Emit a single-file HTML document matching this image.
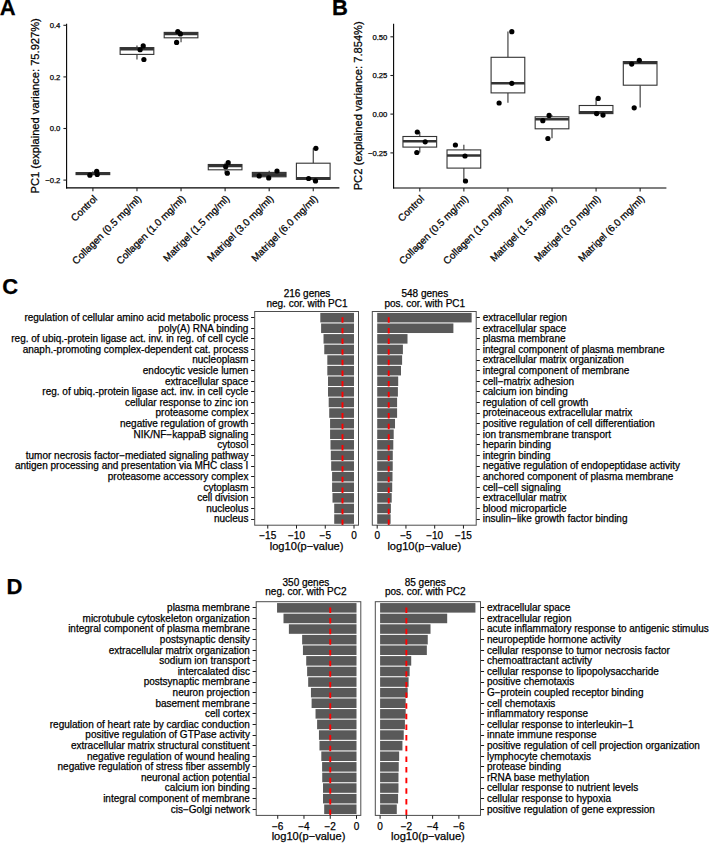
<!DOCTYPE html>
<html><head><meta charset="utf-8"><title>Figure</title>
<style>
html,body{margin:0;padding:0;background:#fff;}
body{width:709px;height:843px;overflow:hidden;}
svg{display:block;font-family:"Liberation Sans", sans-serif;}
text{stroke:#000;stroke-width:0.25px;}
</style></head>
<body>
<svg width="709" height="843" viewBox="0 0 709 843">
<rect x="0" y="0" width="709" height="843" fill="#fff"/>
<text x="-0.30" y="14.60" font-size="22" text-anchor="start" font-weight="bold" fill="#000" >A</text>
<text x="332.00" y="14.70" font-size="22" text-anchor="start" font-weight="bold" fill="#000" >B</text>
<text x="2.20" y="293.60" font-size="22" text-anchor="start" font-weight="bold" fill="#000" >C</text>
<text x="6.60" y="593.90" font-size="22" text-anchor="start" font-weight="bold" fill="#000" >D</text>
<line x1="66.60" y1="23.70" x2="66.60" y2="188.40" stroke="#000" stroke-width="1.1" />
<line x1="66.10" y1="187.90" x2="339.40" y2="187.90" stroke="#000" stroke-width="1.1" />
<line x1="63.40" y1="25.30" x2="66.60" y2="25.30" stroke="#222" stroke-width="1.1" />
<text x="60.40" y="28.05" font-size="7.7" text-anchor="end" font-weight="normal" fill="#000" >0.4</text>
<line x1="63.40" y1="76.90" x2="66.60" y2="76.90" stroke="#222" stroke-width="1.1" />
<text x="60.40" y="79.65" font-size="7.7" text-anchor="end" font-weight="normal" fill="#000" >0.2</text>
<line x1="63.40" y1="128.50" x2="66.60" y2="128.50" stroke="#222" stroke-width="1.1" />
<text x="60.40" y="131.25" font-size="7.7" text-anchor="end" font-weight="normal" fill="#000" >0.0</text>
<line x1="63.40" y1="180.10" x2="66.60" y2="180.10" stroke="#222" stroke-width="1.1" />
<text x="60.40" y="182.85" font-size="7.7" text-anchor="end" font-weight="normal" fill="#000" >−0.2</text>
<text x="0.00" y="0.00" font-size="11.15" text-anchor="middle" font-weight="normal" fill="#000" transform="translate(39.0,105.8) rotate(-90)">PC1 (explained variance: 75.927%)</text>
<line x1="92.90" y1="187.90" x2="92.90" y2="191.30" stroke="#222" stroke-width="1.1" />
<text x="0.00" y="0.00" font-size="10" text-anchor="end" font-weight="normal" fill="#000" transform="translate(97.90,199.30) rotate(-45)">Control</text>
<line x1="92.90" y1="171.30" x2="92.90" y2="172.60" stroke="#333" stroke-width="1.1" />
<line x1="92.90" y1="174.60" x2="92.90" y2="175.20" stroke="#333" stroke-width="1.1" />
<rect x="76.05" y="172.60" width="33.70" height="2.00" fill="#444" stroke="#333" stroke-width="1.1" />
<line x1="76.05" y1="173.50" x2="109.75" y2="173.50" stroke="#333" stroke-width="2.6" />
<circle cx="89.90" cy="175.20" r="2.6" fill="#000"/>
<circle cx="96.70" cy="171.30" r="2.6" fill="#000"/>
<circle cx="97.20" cy="174.50" r="2.6" fill="#000"/>
<line x1="136.97" y1="187.90" x2="136.97" y2="191.30" stroke="#222" stroke-width="1.1" />
<text x="0.00" y="0.00" font-size="10" text-anchor="end" font-weight="normal" fill="#000" transform="translate(141.97,199.30) rotate(-45)">Collagen (0.5 mg/ml)</text>
<line x1="136.97" y1="45.50" x2="136.97" y2="47.60" stroke="#333" stroke-width="1.1" />
<line x1="136.97" y1="54.40" x2="136.97" y2="59.40" stroke="#333" stroke-width="1.1" />
<rect x="120.12" y="47.60" width="33.70" height="6.80" fill="#fff" stroke="#333" stroke-width="1.1" />
<line x1="120.12" y1="49.10" x2="153.82" y2="49.10" stroke="#333" stroke-width="2.6" />
<circle cx="143.20" cy="45.90" r="2.6" fill="#000"/>
<circle cx="140.10" cy="49.75" r="2.6" fill="#000"/>
<circle cx="143.90" cy="59.50" r="2.6" fill="#000"/>
<line x1="181.04" y1="187.90" x2="181.04" y2="191.30" stroke="#222" stroke-width="1.1" />
<text x="0.00" y="0.00" font-size="10" text-anchor="end" font-weight="normal" fill="#000" transform="translate(186.04,199.30) rotate(-45)">Collagen (1.0 mg/ml)</text>
<line x1="181.04" y1="31.30" x2="181.04" y2="32.40" stroke="#333" stroke-width="1.1" />
<line x1="181.04" y1="37.80" x2="181.04" y2="42.20" stroke="#333" stroke-width="1.1" />
<rect x="164.19" y="32.40" width="33.70" height="5.40" fill="#fff" stroke="#333" stroke-width="1.1" />
<line x1="164.19" y1="33.90" x2="197.89" y2="33.90" stroke="#333" stroke-width="2.6" />
<circle cx="177.80" cy="31.50" r="2.6" fill="#000"/>
<circle cx="180.40" cy="33.90" r="2.6" fill="#000"/>
<circle cx="176.60" cy="42.40" r="2.6" fill="#000"/>
<line x1="225.11" y1="187.90" x2="225.11" y2="191.30" stroke="#222" stroke-width="1.1" />
<text x="0.00" y="0.00" font-size="10" text-anchor="end" font-weight="normal" fill="#000" transform="translate(230.11,199.30) rotate(-45)">Matrigel (1.5 mg/ml)</text>
<line x1="225.11" y1="162.70" x2="225.11" y2="164.50" stroke="#333" stroke-width="1.1" />
<line x1="225.11" y1="169.80" x2="225.11" y2="173.20" stroke="#333" stroke-width="1.1" />
<rect x="208.26" y="164.50" width="33.70" height="5.30" fill="#fff" stroke="#333" stroke-width="1.1" />
<line x1="208.26" y1="166.00" x2="241.96" y2="166.00" stroke="#333" stroke-width="2.6" />
<circle cx="228.20" cy="162.70" r="2.6" fill="#000"/>
<circle cx="225.70" cy="166.70" r="2.6" fill="#000"/>
<circle cx="227.30" cy="173.20" r="2.6" fill="#000"/>
<line x1="269.18" y1="187.90" x2="269.18" y2="191.30" stroke="#222" stroke-width="1.1" />
<text x="0.00" y="0.00" font-size="10" text-anchor="end" font-weight="normal" fill="#000" transform="translate(274.18,199.30) rotate(-45)">Matrigel (3.0 mg/ml)</text>
<line x1="269.18" y1="170.80" x2="269.18" y2="172.40" stroke="#333" stroke-width="1.1" />
<line x1="269.18" y1="176.80" x2="269.18" y2="177.90" stroke="#333" stroke-width="1.1" />
<rect x="252.33" y="172.40" width="33.70" height="4.40" fill="#555" stroke="#333" stroke-width="1.1" />
<line x1="252.33" y1="174.60" x2="286.03" y2="174.60" stroke="#333" stroke-width="2.6" />
<circle cx="259.20" cy="175.90" r="2.6" fill="#000"/>
<circle cx="268.70" cy="177.90" r="2.6" fill="#000"/>
<circle cx="277.00" cy="171.00" r="2.6" fill="#000"/>
<line x1="313.25" y1="187.90" x2="313.25" y2="191.30" stroke="#222" stroke-width="1.1" />
<text x="0.00" y="0.00" font-size="10" text-anchor="end" font-weight="normal" fill="#000" transform="translate(318.25,199.30) rotate(-45)">Matrigel (6.0 mg/ml)</text>
<line x1="313.25" y1="148.30" x2="313.25" y2="163.20" stroke="#333" stroke-width="1.1" />
<line x1="313.25" y1="179.40" x2="313.25" y2="180.80" stroke="#333" stroke-width="1.1" />
<rect x="296.40" y="163.20" width="33.70" height="16.20" fill="#fff" stroke="#333" stroke-width="1.1" />
<line x1="296.40" y1="178.30" x2="330.10" y2="178.30" stroke="#333" stroke-width="2.6" />
<circle cx="315.90" cy="148.30" r="2.6" fill="#000"/>
<circle cx="308.60" cy="178.50" r="2.6" fill="#000"/>
<circle cx="315.50" cy="180.90" r="2.6" fill="#000"/>
<line x1="393.60" y1="23.70" x2="393.60" y2="188.50" stroke="#000" stroke-width="1.1" />
<line x1="393.10" y1="188.00" x2="666.40" y2="188.00" stroke="#000" stroke-width="1.1" />
<line x1="390.40" y1="36.80" x2="393.60" y2="36.80" stroke="#222" stroke-width="1.1" />
<text x="387.40" y="39.55" font-size="7.7" text-anchor="end" font-weight="normal" fill="#000" >0.50</text>
<line x1="390.40" y1="75.50" x2="393.60" y2="75.50" stroke="#222" stroke-width="1.1" />
<text x="387.40" y="78.25" font-size="7.7" text-anchor="end" font-weight="normal" fill="#000" >0.25</text>
<line x1="390.40" y1="114.10" x2="393.60" y2="114.10" stroke="#222" stroke-width="1.1" />
<text x="387.40" y="116.85" font-size="7.7" text-anchor="end" font-weight="normal" fill="#000" >0.00</text>
<line x1="390.40" y1="152.90" x2="393.60" y2="152.90" stroke="#222" stroke-width="1.1" />
<text x="387.40" y="155.65" font-size="7.7" text-anchor="end" font-weight="normal" fill="#000" >−0.25</text>
<text x="0.00" y="0.00" font-size="11.15" text-anchor="middle" font-weight="normal" fill="#000" transform="translate(362.0,105.8) rotate(-90)">PC2 (explained variance: 7.854%)</text>
<line x1="419.80" y1="188.00" x2="419.80" y2="191.40" stroke="#222" stroke-width="1.1" />
<text x="0.00" y="0.00" font-size="10" text-anchor="end" font-weight="normal" fill="#000" transform="translate(424.80,199.40) rotate(-45)">Control</text>
<line x1="419.80" y1="132.00" x2="419.80" y2="136.50" stroke="#333" stroke-width="1.1" />
<line x1="419.80" y1="147.10" x2="419.80" y2="152.50" stroke="#333" stroke-width="1.1" />
<rect x="402.95" y="136.50" width="33.70" height="10.60" fill="#fff" stroke="#333" stroke-width="1.1" />
<line x1="402.95" y1="141.20" x2="436.65" y2="141.20" stroke="#333" stroke-width="2.6" />
<circle cx="417.30" cy="132.00" r="2.6" fill="#000"/>
<circle cx="425.20" cy="141.80" r="2.6" fill="#000"/>
<circle cx="416.80" cy="152.50" r="2.6" fill="#000"/>
<line x1="463.87" y1="188.00" x2="463.87" y2="191.40" stroke="#222" stroke-width="1.1" />
<text x="0.00" y="0.00" font-size="10" text-anchor="end" font-weight="normal" fill="#000" transform="translate(468.87,199.40) rotate(-45)">Collagen (0.5 mg/ml)</text>
<line x1="463.87" y1="144.80" x2="463.87" y2="149.90" stroke="#333" stroke-width="1.1" />
<line x1="463.87" y1="168.10" x2="463.87" y2="181.00" stroke="#333" stroke-width="1.1" />
<rect x="447.02" y="149.90" width="33.70" height="18.20" fill="#fff" stroke="#333" stroke-width="1.1" />
<line x1="447.02" y1="155.50" x2="480.72" y2="155.50" stroke="#333" stroke-width="2.6" />
<circle cx="455.40" cy="145.00" r="2.6" fill="#000"/>
<circle cx="465.00" cy="156.00" r="2.6" fill="#000"/>
<circle cx="465.50" cy="181.00" r="2.6" fill="#000"/>
<line x1="507.94" y1="188.00" x2="507.94" y2="191.40" stroke="#222" stroke-width="1.1" />
<text x="0.00" y="0.00" font-size="10" text-anchor="end" font-weight="normal" fill="#000" transform="translate(512.94,199.40) rotate(-45)">Collagen (1.0 mg/ml)</text>
<line x1="507.94" y1="31.50" x2="507.94" y2="57.30" stroke="#333" stroke-width="1.1" />
<line x1="507.94" y1="92.90" x2="507.94" y2="102.80" stroke="#333" stroke-width="1.1" />
<rect x="491.09" y="57.30" width="33.70" height="35.60" fill="#fff" stroke="#333" stroke-width="1.1" />
<line x1="491.09" y1="83.20" x2="524.79" y2="83.20" stroke="#333" stroke-width="2.6" />
<circle cx="511.80" cy="31.70" r="2.6" fill="#000"/>
<circle cx="511.80" cy="83.30" r="2.6" fill="#000"/>
<circle cx="499.10" cy="103.00" r="2.6" fill="#000"/>
<line x1="552.01" y1="188.00" x2="552.01" y2="191.40" stroke="#222" stroke-width="1.1" />
<text x="0.00" y="0.00" font-size="10" text-anchor="end" font-weight="normal" fill="#000" transform="translate(557.01,199.40) rotate(-45)">Matrigel (1.5 mg/ml)</text>
<line x1="552.01" y1="115.30" x2="552.01" y2="116.80" stroke="#333" stroke-width="1.1" />
<line x1="552.01" y1="128.80" x2="552.01" y2="138.30" stroke="#333" stroke-width="1.1" />
<rect x="535.16" y="116.80" width="33.70" height="12.00" fill="#fff" stroke="#333" stroke-width="1.1" />
<line x1="535.16" y1="119.20" x2="568.86" y2="119.20" stroke="#333" stroke-width="2.6" />
<circle cx="542.80" cy="120.70" r="2.6" fill="#000"/>
<circle cx="549.10" cy="115.40" r="2.6" fill="#000"/>
<circle cx="547.90" cy="138.50" r="2.6" fill="#000"/>
<line x1="596.08" y1="188.00" x2="596.08" y2="191.40" stroke="#222" stroke-width="1.1" />
<text x="0.00" y="0.00" font-size="10" text-anchor="end" font-weight="normal" fill="#000" transform="translate(601.08,199.40) rotate(-45)">Matrigel (3.0 mg/ml)</text>
<line x1="596.08" y1="98.60" x2="596.08" y2="105.50" stroke="#333" stroke-width="1.1" />
<line x1="596.08" y1="113.60" x2="596.08" y2="114.90" stroke="#333" stroke-width="1.1" />
<rect x="579.23" y="105.50" width="33.70" height="8.10" fill="#fff" stroke="#333" stroke-width="1.1" />
<line x1="579.23" y1="112.40" x2="612.93" y2="112.40" stroke="#333" stroke-width="2.6" />
<circle cx="598.20" cy="98.40" r="2.6" fill="#000"/>
<circle cx="596.60" cy="113.60" r="2.6" fill="#000"/>
<circle cx="603.00" cy="115.10" r="2.6" fill="#000"/>
<line x1="640.15" y1="188.00" x2="640.15" y2="191.40" stroke="#222" stroke-width="1.1" />
<text x="0.00" y="0.00" font-size="10" text-anchor="end" font-weight="normal" fill="#000" transform="translate(645.15,199.40) rotate(-45)">Matrigel (6.0 mg/ml)</text>
<line x1="640.15" y1="60.40" x2="640.15" y2="61.60" stroke="#333" stroke-width="1.1" />
<line x1="640.15" y1="85.20" x2="640.15" y2="107.60" stroke="#333" stroke-width="1.1" />
<rect x="623.30" y="61.60" width="33.70" height="23.60" fill="#fff" stroke="#333" stroke-width="1.1" />
<line x1="623.30" y1="62.90" x2="657.00" y2="62.90" stroke="#333" stroke-width="2.6" />
<circle cx="631.70" cy="64.10" r="2.6" fill="#000"/>
<circle cx="639.30" cy="60.30" r="2.6" fill="#000"/>
<circle cx="634.20" cy="107.80" r="2.6" fill="#000"/>
<rect x="320.31" y="312.88" width="33.70" height="9.54" fill="#595959" stroke="none" stroke-width="1" />
<line x1="251.10" y1="317.50" x2="254.70" y2="317.50" stroke="#1a1a1a" stroke-width="1.0" />
<text x="248.40" y="320.90" font-size="10" text-anchor="end" font-weight="normal" fill="#000" >regulation of cellular amino acid metabolic process</text>
<rect x="321.11" y="323.48" width="32.89" height="9.54" fill="#595959" stroke="none" stroke-width="1" />
<line x1="251.10" y1="328.50" x2="254.70" y2="328.50" stroke="#1a1a1a" stroke-width="1.0" />
<text x="248.40" y="331.50" font-size="10" text-anchor="end" font-weight="normal" fill="#000" >poly(A) RNA binding</text>
<rect x="323.52" y="334.08" width="30.47" height="9.54" fill="#595959" stroke="none" stroke-width="1" />
<line x1="251.10" y1="338.50" x2="254.70" y2="338.50" stroke="#1a1a1a" stroke-width="1.0" />
<text x="248.40" y="342.10" font-size="10" text-anchor="end" font-weight="normal" fill="#000" >reg. of ubiq.-protein ligase act. inv. in reg. of cell cycle</text>
<rect x="324.27" y="344.68" width="29.73" height="9.54" fill="#595959" stroke="none" stroke-width="1" />
<line x1="251.10" y1="349.50" x2="254.70" y2="349.50" stroke="#1a1a1a" stroke-width="1.0" />
<text x="248.40" y="352.70" font-size="10" text-anchor="end" font-weight="normal" fill="#000" >anaph.-promoting complex-dependent cat. process</text>
<rect x="327.32" y="355.28" width="26.68" height="9.54" fill="#595959" stroke="none" stroke-width="1" />
<line x1="251.10" y1="360.50" x2="254.70" y2="360.50" stroke="#1a1a1a" stroke-width="1.0" />
<text x="248.40" y="363.30" font-size="10" text-anchor="end" font-weight="normal" fill="#000" >nucleoplasm</text>
<rect x="327.32" y="365.88" width="26.68" height="9.54" fill="#595959" stroke="none" stroke-width="1" />
<line x1="251.10" y1="370.50" x2="254.70" y2="370.50" stroke="#1a1a1a" stroke-width="1.0" />
<text x="248.40" y="373.90" font-size="10" text-anchor="end" font-weight="normal" fill="#000" >endocytic vesicle lumen</text>
<rect x="328.01" y="376.48" width="25.99" height="9.54" fill="#595959" stroke="none" stroke-width="1" />
<line x1="251.10" y1="381.50" x2="254.70" y2="381.50" stroke="#1a1a1a" stroke-width="1.0" />
<text x="248.40" y="384.50" font-size="10" text-anchor="end" font-weight="normal" fill="#000" >extracellular space</text>
<rect x="328.01" y="387.08" width="25.99" height="9.54" fill="#595959" stroke="none" stroke-width="1" />
<line x1="251.10" y1="391.50" x2="254.70" y2="391.50" stroke="#1a1a1a" stroke-width="1.0" />
<text x="248.40" y="395.10" font-size="10" text-anchor="end" font-weight="normal" fill="#000" >reg. of ubiq.-protein ligase act. inv. in cell cycle</text>
<rect x="328.70" y="397.68" width="25.30" height="9.54" fill="#595959" stroke="none" stroke-width="1" />
<line x1="251.10" y1="402.50" x2="254.70" y2="402.50" stroke="#1a1a1a" stroke-width="1.0" />
<text x="248.40" y="405.70" font-size="10" text-anchor="end" font-weight="normal" fill="#000" >cellular response to zinc ion</text>
<rect x="329.22" y="408.28" width="24.78" height="9.54" fill="#595959" stroke="none" stroke-width="1" />
<line x1="251.10" y1="413.50" x2="254.70" y2="413.50" stroke="#1a1a1a" stroke-width="1.0" />
<text x="248.40" y="416.30" font-size="10" text-anchor="end" font-weight="normal" fill="#000" >proteasome complex</text>
<rect x="330.08" y="418.88" width="23.92" height="9.54" fill="#595959" stroke="none" stroke-width="1" />
<line x1="251.10" y1="423.50" x2="254.70" y2="423.50" stroke="#1a1a1a" stroke-width="1.0" />
<text x="248.40" y="426.90" font-size="10" text-anchor="end" font-weight="normal" fill="#000" >negative regulation of growth</text>
<rect x="330.08" y="429.48" width="23.92" height="9.54" fill="#595959" stroke="none" stroke-width="1" />
<line x1="251.10" y1="434.50" x2="254.70" y2="434.50" stroke="#1a1a1a" stroke-width="1.0" />
<text x="248.40" y="437.50" font-size="10" text-anchor="end" font-weight="normal" fill="#000" >NIK/NF−kappaB signaling</text>
<rect x="330.48" y="440.08" width="23.52" height="9.54" fill="#595959" stroke="none" stroke-width="1" />
<line x1="251.10" y1="444.50" x2="254.70" y2="444.50" stroke="#1a1a1a" stroke-width="1.0" />
<text x="248.40" y="448.10" font-size="10" text-anchor="end" font-weight="normal" fill="#000" >cytosol</text>
<rect x="330.83" y="450.68" width="23.17" height="9.54" fill="#595959" stroke="none" stroke-width="1" />
<line x1="251.10" y1="455.50" x2="254.70" y2="455.50" stroke="#1a1a1a" stroke-width="1.0" />
<text x="248.40" y="458.70" font-size="10" text-anchor="end" font-weight="normal" fill="#000" >tumor necrosis factor−mediated signaling pathway</text>
<rect x="331.17" y="461.28" width="22.83" height="9.54" fill="#595959" stroke="none" stroke-width="1" />
<line x1="251.10" y1="466.50" x2="254.70" y2="466.50" stroke="#1a1a1a" stroke-width="1.0" />
<text x="248.40" y="469.30" font-size="10" text-anchor="end" font-weight="normal" fill="#000" >antigen processing and presentation via MHC class I</text>
<rect x="332.09" y="471.88" width="21.91" height="9.54" fill="#595959" stroke="none" stroke-width="1" />
<line x1="251.10" y1="476.50" x2="254.70" y2="476.50" stroke="#1a1a1a" stroke-width="1.0" />
<text x="248.40" y="479.90" font-size="10" text-anchor="end" font-weight="normal" fill="#000" >proteasome accessory complex</text>
<rect x="332.09" y="482.48" width="21.91" height="9.54" fill="#595959" stroke="none" stroke-width="1" />
<line x1="251.10" y1="487.50" x2="254.70" y2="487.50" stroke="#1a1a1a" stroke-width="1.0" />
<text x="248.40" y="490.50" font-size="10" text-anchor="end" font-weight="normal" fill="#000" >cytoplasm</text>
<rect x="332.50" y="493.08" width="21.51" height="9.54" fill="#595959" stroke="none" stroke-width="1" />
<line x1="251.10" y1="497.50" x2="254.70" y2="497.50" stroke="#1a1a1a" stroke-width="1.0" />
<text x="248.40" y="501.10" font-size="10" text-anchor="end" font-weight="normal" fill="#000" >cell division</text>
<rect x="334.22" y="503.68" width="19.78" height="9.54" fill="#595959" stroke="none" stroke-width="1" />
<line x1="251.10" y1="508.50" x2="254.70" y2="508.50" stroke="#1a1a1a" stroke-width="1.0" />
<text x="248.40" y="511.70" font-size="10" text-anchor="end" font-weight="normal" fill="#000" >nucleolus</text>
<rect x="334.22" y="514.28" width="19.78" height="9.54" fill="#595959" stroke="none" stroke-width="1" />
<line x1="251.10" y1="519.50" x2="254.70" y2="519.50" stroke="#1a1a1a" stroke-width="1.0" />
<text x="248.40" y="522.30" font-size="10" text-anchor="end" font-weight="normal" fill="#000" >nucleus</text>
<line x1="342.50" y1="524.90" x2="342.50" y2="312.10" stroke="#ff0000" stroke-width="1.9" stroke-dasharray="5.5 5.14"/>
<rect x="254.70" y="311.50" width="103.80" height="213.70" fill="none" stroke="#4d4d4d" stroke-width="1.0" />
<line x1="267.75" y1="525.20" x2="267.75" y2="528.60" stroke="#1a1a1a" stroke-width="1.0" />
<text x="267.75" y="539.10" font-size="10.0" text-anchor="middle" font-weight="normal" fill="#000" >−15</text>
<line x1="296.50" y1="525.20" x2="296.50" y2="528.60" stroke="#1a1a1a" stroke-width="1.0" />
<text x="296.50" y="539.10" font-size="10.0" text-anchor="middle" font-weight="normal" fill="#000" >−10</text>
<line x1="325.25" y1="525.20" x2="325.25" y2="528.60" stroke="#1a1a1a" stroke-width="1.0" />
<text x="325.25" y="539.10" font-size="10.0" text-anchor="middle" font-weight="normal" fill="#000" >−5</text>
<line x1="354.00" y1="525.20" x2="354.00" y2="528.60" stroke="#1a1a1a" stroke-width="1.0" />
<text x="354.00" y="539.10" font-size="10.0" text-anchor="middle" font-weight="normal" fill="#000" >0</text>
<text x="306.60" y="550.10" font-size="11.1" text-anchor="middle" font-weight="normal" fill="#000" >log10(p−value)</text>
<text x="307.00" y="297.00" font-size="10" text-anchor="middle" font-weight="normal" fill="#000" >216 genes</text>
<text x="307.00" y="307.10" font-size="10" text-anchor="middle" font-weight="normal" fill="#000" >neg. cor. with PC1</text>
<rect x="377.20" y="312.88" width="94.42" height="9.54" fill="#595959" stroke="none" stroke-width="1" />
<line x1="476.20" y1="317.50" x2="479.80" y2="317.50" stroke="#1a1a1a" stroke-width="1.0" />
<text x="482.70" y="320.90" font-size="10" text-anchor="start" font-weight="normal" fill="#000" >extracellular region</text>
<rect x="377.20" y="323.48" width="76.19" height="9.54" fill="#595959" stroke="none" stroke-width="1" />
<line x1="476.20" y1="328.50" x2="479.80" y2="328.50" stroke="#1a1a1a" stroke-width="1.0" />
<text x="482.70" y="331.50" font-size="10" text-anchor="start" font-weight="normal" fill="#000" >extracellular space</text>
<rect x="377.20" y="334.08" width="30.30" height="9.54" fill="#595959" stroke="none" stroke-width="1" />
<line x1="476.20" y1="338.50" x2="479.80" y2="338.50" stroke="#1a1a1a" stroke-width="1.0" />
<text x="482.70" y="342.10" font-size="10" text-anchor="start" font-weight="normal" fill="#000" >plasma membrane</text>
<rect x="377.20" y="344.68" width="25.70" height="9.54" fill="#595959" stroke="none" stroke-width="1" />
<line x1="476.20" y1="349.50" x2="479.80" y2="349.50" stroke="#1a1a1a" stroke-width="1.0" />
<text x="482.70" y="352.70" font-size="10" text-anchor="start" font-weight="normal" fill="#000" >integral component of plasma membrane</text>
<rect x="377.20" y="355.28" width="24.90" height="9.54" fill="#595959" stroke="none" stroke-width="1" />
<line x1="476.20" y1="360.50" x2="479.80" y2="360.50" stroke="#1a1a1a" stroke-width="1.0" />
<text x="482.70" y="363.30" font-size="10" text-anchor="start" font-weight="normal" fill="#000" >extracellular matrix organization</text>
<rect x="377.20" y="365.88" width="23.80" height="9.54" fill="#595959" stroke="none" stroke-width="1" />
<line x1="476.20" y1="370.50" x2="479.80" y2="370.50" stroke="#1a1a1a" stroke-width="1.0" />
<text x="482.70" y="373.90" font-size="10" text-anchor="start" font-weight="normal" fill="#000" >integral component of membrane</text>
<rect x="377.20" y="376.48" width="20.99" height="9.54" fill="#595959" stroke="none" stroke-width="1" />
<line x1="476.20" y1="381.50" x2="479.80" y2="381.50" stroke="#1a1a1a" stroke-width="1.0" />
<text x="482.70" y="384.50" font-size="10" text-anchor="start" font-weight="normal" fill="#000" >cell−matrix adhesion</text>
<rect x="377.20" y="387.08" width="20.70" height="9.54" fill="#595959" stroke="none" stroke-width="1" />
<line x1="476.20" y1="391.50" x2="479.80" y2="391.50" stroke="#1a1a1a" stroke-width="1.0" />
<text x="482.70" y="395.10" font-size="10" text-anchor="start" font-weight="normal" fill="#000" >calcium ion binding</text>
<rect x="377.20" y="397.68" width="19.89" height="9.54" fill="#595959" stroke="none" stroke-width="1" />
<line x1="476.20" y1="402.50" x2="479.80" y2="402.50" stroke="#1a1a1a" stroke-width="1.0" />
<text x="482.70" y="405.70" font-size="10" text-anchor="start" font-weight="normal" fill="#000" >regulation of cell growth</text>
<rect x="377.20" y="408.28" width="19.89" height="9.54" fill="#595959" stroke="none" stroke-width="1" />
<line x1="476.20" y1="413.50" x2="479.80" y2="413.50" stroke="#1a1a1a" stroke-width="1.0" />
<text x="482.70" y="416.30" font-size="10" text-anchor="start" font-weight="normal" fill="#000" >proteinaceous extracellular matrix</text>
<rect x="377.20" y="418.88" width="17.82" height="9.54" fill="#595959" stroke="none" stroke-width="1" />
<line x1="476.20" y1="423.50" x2="479.80" y2="423.50" stroke="#1a1a1a" stroke-width="1.0" />
<text x="482.70" y="426.90" font-size="10" text-anchor="start" font-weight="normal" fill="#000" >positive regulation of cell differentiation</text>
<rect x="377.20" y="429.48" width="16.50" height="9.54" fill="#595959" stroke="none" stroke-width="1" />
<line x1="476.20" y1="434.50" x2="479.80" y2="434.50" stroke="#1a1a1a" stroke-width="1.0" />
<text x="482.70" y="437.50" font-size="10" text-anchor="start" font-weight="normal" fill="#000" >ion transmembrane transport</text>
<rect x="377.20" y="440.08" width="16.10" height="9.54" fill="#595959" stroke="none" stroke-width="1" />
<line x1="476.20" y1="444.50" x2="479.80" y2="444.50" stroke="#1a1a1a" stroke-width="1.0" />
<text x="482.70" y="448.10" font-size="10" text-anchor="start" font-weight="normal" fill="#000" >heparin binding</text>
<rect x="377.20" y="450.68" width="15.58" height="9.54" fill="#595959" stroke="none" stroke-width="1" />
<line x1="476.20" y1="455.50" x2="479.80" y2="455.50" stroke="#1a1a1a" stroke-width="1.0" />
<text x="482.70" y="458.70" font-size="10" text-anchor="start" font-weight="normal" fill="#000" >integrin binding</text>
<rect x="377.20" y="461.28" width="15.53" height="9.54" fill="#595959" stroke="none" stroke-width="1" />
<line x1="476.20" y1="466.50" x2="479.80" y2="466.50" stroke="#1a1a1a" stroke-width="1.0" />
<text x="482.70" y="469.30" font-size="10" text-anchor="start" font-weight="normal" fill="#000" >negative regulation of endopeptidase activity</text>
<rect x="377.20" y="471.88" width="15.30" height="9.54" fill="#595959" stroke="none" stroke-width="1" />
<line x1="476.20" y1="476.50" x2="479.80" y2="476.50" stroke="#1a1a1a" stroke-width="1.0" />
<text x="482.70" y="479.90" font-size="10" text-anchor="start" font-weight="normal" fill="#000" >anchored component of plasma membrane</text>
<rect x="377.20" y="482.48" width="15.01" height="9.54" fill="#595959" stroke="none" stroke-width="1" />
<line x1="476.20" y1="487.50" x2="479.80" y2="487.50" stroke="#1a1a1a" stroke-width="1.0" />
<text x="482.70" y="490.50" font-size="10" text-anchor="start" font-weight="normal" fill="#000" >cell−cell signaling</text>
<rect x="377.20" y="493.08" width="14.49" height="9.54" fill="#595959" stroke="none" stroke-width="1" />
<line x1="476.20" y1="497.50" x2="479.80" y2="497.50" stroke="#1a1a1a" stroke-width="1.0" />
<text x="482.70" y="501.10" font-size="10" text-anchor="start" font-weight="normal" fill="#000" >extracellular matrix</text>
<rect x="377.20" y="503.68" width="13.68" height="9.54" fill="#595959" stroke="none" stroke-width="1" />
<line x1="476.20" y1="508.50" x2="479.80" y2="508.50" stroke="#1a1a1a" stroke-width="1.0" />
<text x="482.70" y="511.70" font-size="10" text-anchor="start" font-weight="normal" fill="#000" >blood microparticle</text>
<rect x="377.20" y="514.28" width="13.40" height="9.54" fill="#595959" stroke="none" stroke-width="1" />
<line x1="476.20" y1="519.50" x2="479.80" y2="519.50" stroke="#1a1a1a" stroke-width="1.0" />
<text x="482.70" y="522.30" font-size="10" text-anchor="start" font-weight="normal" fill="#000" >insulin−like growth factor binding</text>
<line x1="388.70" y1="524.90" x2="388.70" y2="312.10" stroke="#ff0000" stroke-width="1.9" stroke-dasharray="5.5 5.14"/>
<rect x="372.30" y="311.50" width="103.90" height="213.70" fill="none" stroke="#4d4d4d" stroke-width="1.0" />
<line x1="377.20" y1="525.20" x2="377.20" y2="528.60" stroke="#1a1a1a" stroke-width="1.0" />
<text x="377.20" y="539.10" font-size="10.0" text-anchor="middle" font-weight="normal" fill="#000" >0</text>
<line x1="405.95" y1="525.20" x2="405.95" y2="528.60" stroke="#1a1a1a" stroke-width="1.0" />
<text x="405.95" y="539.10" font-size="10.0" text-anchor="middle" font-weight="normal" fill="#000" >−5</text>
<line x1="434.70" y1="525.20" x2="434.70" y2="528.60" stroke="#1a1a1a" stroke-width="1.0" />
<text x="434.70" y="539.10" font-size="10.0" text-anchor="middle" font-weight="normal" fill="#000" >−10</text>
<line x1="463.45" y1="525.20" x2="463.45" y2="528.60" stroke="#1a1a1a" stroke-width="1.0" />
<text x="463.45" y="539.10" font-size="10.0" text-anchor="middle" font-weight="normal" fill="#000" >−15</text>
<text x="424.25" y="550.10" font-size="11.1" text-anchor="middle" font-weight="normal" fill="#000" >log10(p−value)</text>
<text x="424.80" y="297.00" font-size="10" text-anchor="middle" font-weight="normal" fill="#000" >548 genes</text>
<text x="424.80" y="307.10" font-size="10" text-anchor="middle" font-weight="normal" fill="#000" >pos. cor. with PC1</text>
<rect x="277.06" y="603.08" width="79.44" height="9.54" fill="#595959" stroke="none" stroke-width="1" />
<line x1="252.60" y1="607.50" x2="256.20" y2="607.50" stroke="#1a1a1a" stroke-width="1.0" />
<text x="249.90" y="611.10" font-size="10" text-anchor="end" font-weight="normal" fill="#000" >plasma membrane</text>
<rect x="283.50" y="613.68" width="73.00" height="9.54" fill="#595959" stroke="none" stroke-width="1" />
<line x1="252.60" y1="618.50" x2="256.20" y2="618.50" stroke="#1a1a1a" stroke-width="1.0" />
<text x="249.90" y="621.70" font-size="10" text-anchor="end" font-weight="normal" fill="#000" >microtubule cytoskeleton organization</text>
<rect x="288.88" y="624.28" width="67.62" height="9.54" fill="#595959" stroke="none" stroke-width="1" />
<line x1="252.60" y1="629.50" x2="256.20" y2="629.50" stroke="#1a1a1a" stroke-width="1.0" />
<text x="249.90" y="632.30" font-size="10" text-anchor="end" font-weight="normal" fill="#000" >integral component of plasma membrane</text>
<rect x="302.14" y="634.88" width="54.36" height="9.54" fill="#595959" stroke="none" stroke-width="1" />
<line x1="252.60" y1="639.50" x2="256.20" y2="639.50" stroke="#1a1a1a" stroke-width="1.0" />
<text x="249.90" y="642.90" font-size="10" text-anchor="end" font-weight="normal" fill="#000" >postsynaptic density</text>
<rect x="302.93" y="645.48" width="53.57" height="9.54" fill="#595959" stroke="none" stroke-width="1" />
<line x1="252.60" y1="650.50" x2="256.20" y2="650.50" stroke="#1a1a1a" stroke-width="1.0" />
<text x="249.90" y="653.50" font-size="10" text-anchor="end" font-weight="normal" fill="#000" >extracellular matrix organization</text>
<rect x="306.21" y="656.08" width="50.29" height="9.54" fill="#595959" stroke="none" stroke-width="1" />
<line x1="252.60" y1="660.50" x2="256.20" y2="660.50" stroke="#1a1a1a" stroke-width="1.0" />
<text x="249.90" y="664.10" font-size="10" text-anchor="end" font-weight="normal" fill="#000" >sodium ion transport</text>
<rect x="307.13" y="666.68" width="49.37" height="9.54" fill="#595959" stroke="none" stroke-width="1" />
<line x1="252.60" y1="671.50" x2="256.20" y2="671.50" stroke="#1a1a1a" stroke-width="1.0" />
<text x="249.90" y="674.70" font-size="10" text-anchor="end" font-weight="normal" fill="#000" >intercalated disc</text>
<rect x="308.18" y="677.28" width="48.32" height="9.54" fill="#595959" stroke="none" stroke-width="1" />
<line x1="252.60" y1="682.50" x2="256.20" y2="682.50" stroke="#1a1a1a" stroke-width="1.0" />
<text x="249.90" y="685.30" font-size="10" text-anchor="end" font-weight="normal" fill="#000" >postsynaptic membrane</text>
<rect x="310.94" y="687.88" width="45.56" height="9.54" fill="#595959" stroke="none" stroke-width="1" />
<line x1="252.60" y1="692.50" x2="256.20" y2="692.50" stroke="#1a1a1a" stroke-width="1.0" />
<text x="249.90" y="695.90" font-size="10" text-anchor="end" font-weight="normal" fill="#000" >neuron projection</text>
<rect x="311.60" y="698.48" width="44.90" height="9.54" fill="#595959" stroke="none" stroke-width="1" />
<line x1="252.60" y1="703.50" x2="256.20" y2="703.50" stroke="#1a1a1a" stroke-width="1.0" />
<text x="249.90" y="706.50" font-size="10" text-anchor="end" font-weight="normal" fill="#000" >basement membrane</text>
<rect x="315.53" y="709.08" width="40.97" height="9.54" fill="#595959" stroke="none" stroke-width="1" />
<line x1="252.60" y1="713.50" x2="256.20" y2="713.50" stroke="#1a1a1a" stroke-width="1.0" />
<text x="249.90" y="717.10" font-size="10" text-anchor="end" font-weight="normal" fill="#000" >cell cortex</text>
<rect x="317.11" y="719.68" width="39.39" height="9.54" fill="#595959" stroke="none" stroke-width="1" />
<line x1="252.60" y1="724.50" x2="256.20" y2="724.50" stroke="#1a1a1a" stroke-width="1.0" />
<text x="249.90" y="727.70" font-size="10" text-anchor="end" font-weight="normal" fill="#000" >regulation of heart rate by cardiac conduction</text>
<rect x="318.95" y="730.28" width="37.55" height="9.54" fill="#595959" stroke="none" stroke-width="1" />
<line x1="252.60" y1="735.50" x2="256.20" y2="735.50" stroke="#1a1a1a" stroke-width="1.0" />
<text x="249.90" y="738.30" font-size="10" text-anchor="end" font-weight="normal" fill="#000" >positive regulation of GTPase activity</text>
<rect x="319.47" y="740.88" width="37.03" height="9.54" fill="#595959" stroke="none" stroke-width="1" />
<line x1="252.60" y1="745.50" x2="256.20" y2="745.50" stroke="#1a1a1a" stroke-width="1.0" />
<text x="249.90" y="748.90" font-size="10" text-anchor="end" font-weight="normal" fill="#000" >extracellular matrix structural constituent</text>
<rect x="321.31" y="751.48" width="35.19" height="9.54" fill="#595959" stroke="none" stroke-width="1" />
<line x1="252.60" y1="756.50" x2="256.20" y2="756.50" stroke="#1a1a1a" stroke-width="1.0" />
<text x="249.90" y="759.50" font-size="10" text-anchor="end" font-weight="normal" fill="#000" >negative regulation of wound healing</text>
<rect x="322.10" y="762.08" width="34.40" height="9.54" fill="#595959" stroke="none" stroke-width="1" />
<line x1="252.60" y1="766.50" x2="256.20" y2="766.50" stroke="#1a1a1a" stroke-width="1.0" />
<text x="249.90" y="770.10" font-size="10" text-anchor="end" font-weight="normal" fill="#000" >negative regulation of stress fiber assembly</text>
<rect x="322.23" y="772.68" width="34.27" height="9.54" fill="#595959" stroke="none" stroke-width="1" />
<line x1="252.60" y1="777.50" x2="256.20" y2="777.50" stroke="#1a1a1a" stroke-width="1.0" />
<text x="249.90" y="780.70" font-size="10" text-anchor="end" font-weight="normal" fill="#000" >neuronal action potential</text>
<rect x="323.02" y="783.28" width="33.48" height="9.54" fill="#595959" stroke="none" stroke-width="1" />
<line x1="252.60" y1="788.50" x2="256.20" y2="788.50" stroke="#1a1a1a" stroke-width="1.0" />
<text x="249.90" y="791.30" font-size="10" text-anchor="end" font-weight="normal" fill="#000" >calcium ion binding</text>
<rect x="323.02" y="793.88" width="33.48" height="9.54" fill="#595959" stroke="none" stroke-width="1" />
<line x1="252.60" y1="798.50" x2="256.20" y2="798.50" stroke="#1a1a1a" stroke-width="1.0" />
<text x="249.90" y="801.90" font-size="10" text-anchor="end" font-weight="normal" fill="#000" >integral component of membrane</text>
<rect x="324.20" y="804.48" width="32.30" height="9.54" fill="#595959" stroke="none" stroke-width="1" />
<line x1="252.60" y1="809.50" x2="256.20" y2="809.50" stroke="#1a1a1a" stroke-width="1.0" />
<text x="249.90" y="812.50" font-size="10" text-anchor="end" font-weight="normal" fill="#000" >cis−Golgi network</text>
<line x1="330.24" y1="815.10" x2="330.24" y2="602.30" stroke="#ff0000" stroke-width="1.9" stroke-dasharray="5.5 5.14"/>
<rect x="256.20" y="601.70" width="104.60" height="213.70" fill="none" stroke="#4d4d4d" stroke-width="1.0" />
<line x1="277.72" y1="815.40" x2="277.72" y2="818.80" stroke="#1a1a1a" stroke-width="1.0" />
<text x="277.72" y="829.90" font-size="10.0" text-anchor="middle" font-weight="normal" fill="#000" >−6</text>
<line x1="303.98" y1="815.40" x2="303.98" y2="818.80" stroke="#1a1a1a" stroke-width="1.0" />
<text x="303.98" y="829.90" font-size="10.0" text-anchor="middle" font-weight="normal" fill="#000" >−4</text>
<line x1="330.24" y1="815.40" x2="330.24" y2="818.80" stroke="#1a1a1a" stroke-width="1.0" />
<text x="330.24" y="829.90" font-size="10.0" text-anchor="middle" font-weight="normal" fill="#000" >−2</text>
<line x1="356.50" y1="815.40" x2="356.50" y2="818.80" stroke="#1a1a1a" stroke-width="1.0" />
<text x="356.50" y="829.90" font-size="10.0" text-anchor="middle" font-weight="normal" fill="#000" >0</text>
<text x="308.50" y="840.40" font-size="11.1" text-anchor="middle" font-weight="normal" fill="#000" >log10(p−value)</text>
<text x="305.90" y="586.20" font-size="10" text-anchor="middle" font-weight="normal" fill="#000" >350 genes</text>
<text x="305.90" y="595.20" font-size="10" text-anchor="middle" font-weight="normal" fill="#000" >neg. cor. with PC2</text>
<rect x="380.10" y="603.08" width="95.32" height="9.54" fill="#595959" stroke="none" stroke-width="1" />
<line x1="480.50" y1="607.50" x2="484.10" y2="607.50" stroke="#1a1a1a" stroke-width="1.0" />
<text x="487.00" y="611.10" font-size="10" text-anchor="start" font-weight="normal" fill="#000" >extracellular space</text>
<rect x="380.10" y="613.68" width="67.09" height="9.54" fill="#595959" stroke="none" stroke-width="1" />
<line x1="480.50" y1="618.50" x2="484.10" y2="618.50" stroke="#1a1a1a" stroke-width="1.0" />
<text x="487.00" y="621.70" font-size="10" text-anchor="start" font-weight="normal" fill="#000" >extracellular region</text>
<rect x="380.10" y="624.28" width="50.42" height="9.54" fill="#595959" stroke="none" stroke-width="1" />
<line x1="480.50" y1="629.50" x2="484.10" y2="629.50" stroke="#1a1a1a" stroke-width="1.0" />
<text x="487.00" y="632.30" font-size="10" text-anchor="start" font-weight="normal" fill="#000" >acute inflammatory response to antigenic stimulus</text>
<rect x="380.10" y="634.88" width="47.66" height="9.54" fill="#595959" stroke="none" stroke-width="1" />
<line x1="480.50" y1="639.50" x2="484.10" y2="639.50" stroke="#1a1a1a" stroke-width="1.0" />
<text x="487.00" y="642.90" font-size="10" text-anchor="start" font-weight="normal" fill="#000" >neuropeptide hormone activity</text>
<rect x="380.10" y="645.48" width="46.74" height="9.54" fill="#595959" stroke="none" stroke-width="1" />
<line x1="480.50" y1="650.50" x2="484.10" y2="650.50" stroke="#1a1a1a" stroke-width="1.0" />
<text x="487.00" y="653.50" font-size="10" text-anchor="start" font-weight="normal" fill="#000" >cellular response to tumor necrosis factor</text>
<rect x="380.10" y="656.08" width="31.12" height="9.54" fill="#595959" stroke="none" stroke-width="1" />
<line x1="480.50" y1="660.50" x2="484.10" y2="660.50" stroke="#1a1a1a" stroke-width="1.0" />
<text x="487.00" y="664.10" font-size="10" text-anchor="start" font-weight="normal" fill="#000" >chemoattractant activity</text>
<rect x="380.10" y="666.68" width="29.54" height="9.54" fill="#595959" stroke="none" stroke-width="1" />
<line x1="480.50" y1="671.50" x2="484.10" y2="671.50" stroke="#1a1a1a" stroke-width="1.0" />
<text x="487.00" y="674.70" font-size="10" text-anchor="start" font-weight="normal" fill="#000" >cellular response to lipopolysaccharide</text>
<rect x="380.10" y="677.28" width="28.49" height="9.54" fill="#595959" stroke="none" stroke-width="1" />
<line x1="480.50" y1="682.50" x2="484.10" y2="682.50" stroke="#1a1a1a" stroke-width="1.0" />
<text x="487.00" y="685.30" font-size="10" text-anchor="start" font-weight="normal" fill="#000" >positive chemotaxis</text>
<rect x="380.10" y="687.88" width="27.57" height="9.54" fill="#595959" stroke="none" stroke-width="1" />
<line x1="480.50" y1="692.50" x2="484.10" y2="692.50" stroke="#1a1a1a" stroke-width="1.0" />
<text x="487.00" y="695.90" font-size="10" text-anchor="start" font-weight="normal" fill="#000" >G−protein coupled receptor binding</text>
<rect x="380.10" y="698.48" width="25.60" height="9.54" fill="#595959" stroke="none" stroke-width="1" />
<line x1="480.50" y1="703.50" x2="484.10" y2="703.50" stroke="#1a1a1a" stroke-width="1.0" />
<text x="487.00" y="706.50" font-size="10" text-anchor="start" font-weight="normal" fill="#000" >cell chemotaxis</text>
<rect x="380.10" y="709.08" width="25.60" height="9.54" fill="#595959" stroke="none" stroke-width="1" />
<line x1="480.50" y1="713.50" x2="484.10" y2="713.50" stroke="#1a1a1a" stroke-width="1.0" />
<text x="487.00" y="717.10" font-size="10" text-anchor="start" font-weight="normal" fill="#000" >inflammatory response</text>
<rect x="380.10" y="719.68" width="24.82" height="9.54" fill="#595959" stroke="none" stroke-width="1" />
<line x1="480.50" y1="724.50" x2="484.10" y2="724.50" stroke="#1a1a1a" stroke-width="1.0" />
<text x="487.00" y="727.70" font-size="10" text-anchor="start" font-weight="normal" fill="#000" >cellular response to interleukin−1</text>
<rect x="380.10" y="730.28" width="23.63" height="9.54" fill="#595959" stroke="none" stroke-width="1" />
<line x1="480.50" y1="735.50" x2="484.10" y2="735.50" stroke="#1a1a1a" stroke-width="1.0" />
<text x="487.00" y="738.30" font-size="10" text-anchor="start" font-weight="normal" fill="#000" >innate immune response</text>
<rect x="380.10" y="740.88" width="22.32" height="9.54" fill="#595959" stroke="none" stroke-width="1" />
<line x1="480.50" y1="745.50" x2="484.10" y2="745.50" stroke="#1a1a1a" stroke-width="1.0" />
<text x="487.00" y="748.90" font-size="10" text-anchor="start" font-weight="normal" fill="#000" >positive regulation of cell projection organization</text>
<rect x="380.10" y="751.48" width="19.04" height="9.54" fill="#595959" stroke="none" stroke-width="1" />
<line x1="480.50" y1="756.50" x2="484.10" y2="756.50" stroke="#1a1a1a" stroke-width="1.0" />
<text x="487.00" y="759.50" font-size="10" text-anchor="start" font-weight="normal" fill="#000" >lymphocyte chemotaxis</text>
<rect x="380.10" y="762.08" width="18.64" height="9.54" fill="#595959" stroke="none" stroke-width="1" />
<line x1="480.50" y1="766.50" x2="484.10" y2="766.50" stroke="#1a1a1a" stroke-width="1.0" />
<text x="487.00" y="770.10" font-size="10" text-anchor="start" font-weight="normal" fill="#000" >protease binding</text>
<rect x="380.10" y="772.68" width="18.38" height="9.54" fill="#595959" stroke="none" stroke-width="1" />
<line x1="480.50" y1="777.50" x2="484.10" y2="777.50" stroke="#1a1a1a" stroke-width="1.0" />
<text x="487.00" y="780.70" font-size="10" text-anchor="start" font-weight="normal" fill="#000" >rRNA base methylation</text>
<rect x="380.10" y="783.28" width="18.38" height="9.54" fill="#595959" stroke="none" stroke-width="1" />
<line x1="480.50" y1="788.50" x2="484.10" y2="788.50" stroke="#1a1a1a" stroke-width="1.0" />
<text x="487.00" y="791.30" font-size="10" text-anchor="start" font-weight="normal" fill="#000" >cellular response to nutrient levels</text>
<rect x="380.10" y="793.88" width="17.99" height="9.54" fill="#595959" stroke="none" stroke-width="1" />
<line x1="480.50" y1="798.50" x2="484.10" y2="798.50" stroke="#1a1a1a" stroke-width="1.0" />
<text x="487.00" y="801.90" font-size="10" text-anchor="start" font-weight="normal" fill="#000" >cellular response to hypoxia</text>
<rect x="380.10" y="804.48" width="16.68" height="9.54" fill="#595959" stroke="none" stroke-width="1" />
<line x1="480.50" y1="809.50" x2="484.10" y2="809.50" stroke="#1a1a1a" stroke-width="1.0" />
<text x="487.00" y="812.50" font-size="10" text-anchor="start" font-weight="normal" fill="#000" >positive regulation of gene expression</text>
<line x1="406.36" y1="815.10" x2="406.36" y2="602.30" stroke="#ff0000" stroke-width="1.9" stroke-dasharray="5.5 5.14"/>
<rect x="375.30" y="601.70" width="105.20" height="213.70" fill="none" stroke="#4d4d4d" stroke-width="1.0" />
<line x1="380.10" y1="815.40" x2="380.10" y2="818.80" stroke="#1a1a1a" stroke-width="1.0" />
<text x="380.10" y="829.90" font-size="10.0" text-anchor="middle" font-weight="normal" fill="#000" >0</text>
<line x1="406.36" y1="815.40" x2="406.36" y2="818.80" stroke="#1a1a1a" stroke-width="1.0" />
<text x="406.36" y="829.90" font-size="10.0" text-anchor="middle" font-weight="normal" fill="#000" >−2</text>
<line x1="432.62" y1="815.40" x2="432.62" y2="818.80" stroke="#1a1a1a" stroke-width="1.0" />
<text x="432.62" y="829.90" font-size="10.0" text-anchor="middle" font-weight="normal" fill="#000" >−4</text>
<line x1="458.88" y1="815.40" x2="458.88" y2="818.80" stroke="#1a1a1a" stroke-width="1.0" />
<text x="458.88" y="829.90" font-size="10.0" text-anchor="middle" font-weight="normal" fill="#000" >−6</text>
<text x="427.90" y="840.40" font-size="11.1" text-anchor="middle" font-weight="normal" fill="#000" >log10(p−value)</text>
<text x="425.30" y="586.20" font-size="10" text-anchor="middle" font-weight="normal" fill="#000" >85 genes</text>
<text x="425.30" y="595.20" font-size="10" text-anchor="middle" font-weight="normal" fill="#000" >pos. cor. with PC2</text>
</svg>
</body></html>
